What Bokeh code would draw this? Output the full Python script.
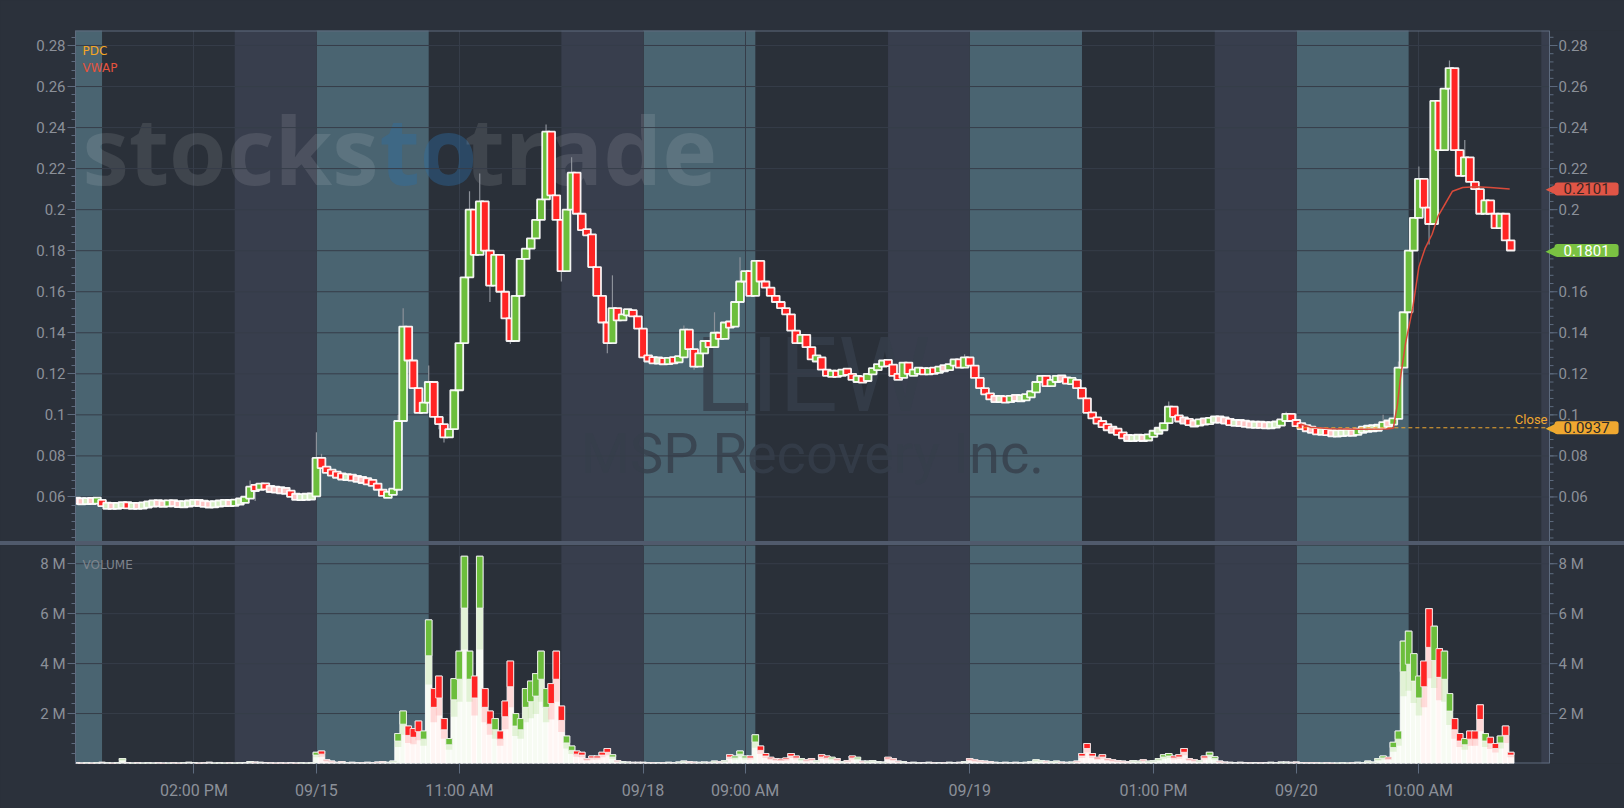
import numpy as np
from bokeh.plotting import figure
from bokeh.layouts import column
from bokeh.models import Range1d, FixedTicker, Label, Div, Grid, ColumnDataSource
from bokeh.core.properties import value
from bokeh.embed import file_html
from bokeh.resources import INLINE

# ---------------- data ----------------
ticker_name = "LIEW"
company_name = "MSP Recovery Inc."
day_labels = ["09/14", "09/15", "09/18", "09/19", "09/20"]
tick_hours = [10, 16, 23, 32, 37, 48, 57, 64, 70]
tick_labels = ["02:00 PM", "09/15", "11:00 AM", "09/18", "09:00 AM", "09/19", "01:00 PM", "09/20", "10:00 AM"]
price_ticks = [0.06, 0.08, 0.1, 0.12, 0.14, 0.16, 0.18, 0.2, 0.22, 0.24, 0.26, 0.28]
volume_ticks = [2e6, 4e6, 6e6, 8e6]
volume_tick_labels = ["2 M", "4 M", "6 M", "8 M"]

# 15-minute candles, hours counted from 04:00 of each session day
d0_first = 4.25
d0_open = 0.0582
d0_close = [0.0580, 0.0577, 0.0582, 0.0579, 0.0585,
            0.0556, 0.0558, 0.0555, 0.0558, 0.0562,
            0.0556, 0.0557, 0.0556, 0.0560, 0.0566,
            0.0570, 0.0568, 0.0565, 0.0572, 0.0567,
            0.0563, 0.0566, 0.0569, 0.0573, 0.0568,
            0.0565, 0.0562, 0.0566, 0.0569, 0.0572,
            0.0568, 0.0575, 0.0580, 0.0592, 0.0650,
            0.0638, 0.0662, 0.0641, 0.0637, 0.0634,
            0.0631, 0.0628, 0.0603, 0.0598, 0.0600,
            0.0601, 0.0603]
d0_vol = [0.03, 0.02, 0.03, 0.02, 0.03,
          0.05, 0.03, 0.02, 0.03, 0.20,
          0.04, 0.02, 0.03, 0.02, 0.03,
          0.02, 0.03, 0.02, 0.02, 0.03,
          0.02, 0.03, 0.05, 0.04, 0.02,
          0.03, 0.05, 0.02, 0.03, 0.02,
          0.03, 0.02, 0.03, 0.04, 0.08,
          0.06, 0.05, 0.04, 0.03, 0.02,
          0.03, 0.02, 0.04, 0.02, 0.03,
          0.02, 0.03]

d1_first = 0.0
d1_close = [0.0790, 0.0740, 0.0725, 0.0712,
            0.0705, 0.0695, 0.0698, 0.0690,
            0.0686, 0.0680, 0.0672, 0.0665,
            0.0635, 0.0605, 0.0615, 0.0635,
            0.0970, 0.1430, 0.1265, 0.1130,
            0.1010, 0.1060, 0.1160, 0.0990,
            0.0955, 0.0890, 0.0930, 0.1120,
            0.1350, 0.1670, 0.2000, 0.1780,
            0.2040, 0.1800, 0.1630, 0.1780,
            0.1600, 0.1470, 0.1360, 0.1580,
            0.1760, 0.1810, 0.1860, 0.1950,
            0.2050, 0.2380, 0.2070, 0.1950,
            0.1700, 0.2000, 0.2180, 0.1980,
            0.1900, 0.1880, 0.1720, 0.1580,
            0.1450, 0.1350, 0.1520, 0.1460,
            0.1490, 0.1510, 0.1480, 0.1420]
d1_vol = [0.45, 0.50, 0.15, 0.10,
          0.05, 0.08, 0.04, 0.05,
          0.04, 0.03, 0.05, 0.04,
          0.06, 0.08, 0.05, 0.10,
          1.20, 2.10, 1.50, 1.40,
          1.70, 1.30, 5.75, 3.00,
          3.50, 1.80, 1.00, 3.40,
          4.50, 8.30, 4.50, 3.50,
          8.30, 3.00, 2.10, 1.80,
          1.30, 2.50, 4.10, 2.00,
          1.80, 3.00, 3.30, 3.60,
          4.50, 3.00, 3.20, 4.50,
          2.30, 1.10, 0.70, 0.50,
          0.45, 0.20, 0.30, 0.30,
          0.45, 0.60, 0.35, 0.12,
          0.08, 0.06, 0.05, 0.05]

d2_first = 0.0
d2_close = [0.1280, 0.1270, 0.1262, 0.1268,
            0.1255, 0.1270, 0.1262, 0.1280,
            0.1415, 0.1320, 0.1235, 0.1300,
            0.1360, 0.1330, 0.1400, 0.1370,
            0.1450, 0.1430, 0.1550, 0.1650,
            0.1700, 0.1580, 0.1750, 0.1650,
            0.1620, 0.1580, 0.1550, 0.1520,
            0.1490, 0.1410, 0.1350, 0.1390,
            0.1330, 0.1270, 0.1280, 0.1220,
            0.1190, 0.1210, 0.1190, 0.1220,
            0.1200, 0.1170, 0.1180, 0.1165,
            0.1200, 0.1225, 0.1240, 0.1260,
            0.1245, 0.1190, 0.1180, 0.1255,
            0.1200, 0.1210, 0.1220, 0.1205,
            0.1220, 0.1210, 0.1230, 0.1225,
            0.1240, 0.1270, 0.1230, 0.1280]
d2_vol = [0.05, 0.04, 0.03, 0.04,
          0.03, 0.05, 0.04, 0.06,
          0.10, 0.08, 0.06, 0.05,
          0.06, 0.05, 0.10, 0.08,
          0.12, 0.35, 0.30, 0.50,
          0.30, 0.30, 1.15, 0.70,
          0.40, 0.25, 0.20, 0.18,
          0.22, 0.40, 0.30, 0.20,
          0.15, 0.20, 0.12, 0.35,
          0.30, 0.25, 0.20, 0.08,
          0.12, 0.30, 0.25, 0.10,
          0.10, 0.12, 0.08, 0.06,
          0.25, 0.20, 0.10, 0.08,
          0.04, 0.05, 0.03, 0.04,
          0.05, 0.03, 0.04, 0.03,
          0.05, 0.04, 0.05, 0.08]

d3_first = 0.0
d3_close = [0.1240, 0.1180, 0.1130, 0.1100,
            0.1080, 0.1075, 0.1080, 0.1070,
            0.1085, 0.1080, 0.1082, 0.1090,
            0.1110, 0.1160, 0.1190, 0.1140,
            0.1170, 0.1180, 0.1175, 0.1160,
            0.1170, 0.1130, 0.1080, 0.1010,
            0.0985, 0.0960, 0.0950, 0.0930,
            0.0925, 0.0910, 0.0890, 0.0885,
            0.0888, 0.0890, 0.0885, 0.0895,
            0.0920, 0.0925, 0.0960, 0.1040,
            0.0990, 0.0975, 0.0970, 0.0960,
            0.0955, 0.0970, 0.0965, 0.0975,
            0.0980, 0.0975, 0.0970, 0.0960,
            0.0962, 0.0958, 0.0955, 0.0950,
            0.0953, 0.0950, 0.0948, 0.0950,
            0.0955, 0.0970, 0.1005, 0.0970]
d3_vol = [0.20, 0.15, 0.12, 0.10,
          0.08, 0.05, 0.04, 0.05,
          0.04, 0.05, 0.04, 0.05,
          0.08, 0.15, 0.12, 0.10,
          0.08, 0.10, 0.06, 0.05,
          0.06, 0.10, 0.40, 0.80,
          0.40, 0.25, 0.35, 0.20,
          0.15, 0.12, 0.10, 0.08,
          0.12, 0.10, 0.15, 0.10,
          0.12, 0.20, 0.35, 0.40,
          0.30, 0.35, 0.60, 0.20,
          0.15, 0.12, 0.30, 0.45,
          0.27, 0.10, 0.06, 0.05,
          0.04, 0.05, 0.04, 0.03,
          0.04, 0.03, 0.04, 0.05,
          0.04, 0.06, 0.06, 0.05]

d4_first = 0.0
d4_close = [0.0950, 0.0940, 0.0930, 0.0925,
            0.0915, 0.0920, 0.0912, 0.0908,
            0.0910, 0.0912, 0.0915, 0.0910,
            0.0925, 0.0930, 0.0935, 0.0935,
            0.0940, 0.0960, 0.0955, 0.0980,
            0.1230, 0.1500, 0.1800, 0.1960,
            0.2150, 0.2010, 0.1930, 0.2530,
            0.2290, 0.2590, 0.2690, 0.2290,
            0.2165, 0.2255, 0.2135, 0.2100,
            0.1980, 0.2045, 0.1980, 0.1910,
            0.1980, 0.1850, 0.1801]
d4_vol = [0.06, 0.04, 0.03, 0.03,
          0.03, 0.02, 0.03, 0.02,
          0.02, 0.03, 0.02, 0.03,
          0.05, 0.04, 0.10, 0.06,
          0.20, 0.30, 0.25, 0.85,
          1.30, 4.90, 5.30, 4.40,
          3.50, 4.10, 6.20, 5.50,
          4.60, 4.50, 2.80, 1.80,
          1.20, 1.00, 1.30, 1.30,
          2.35, 1.20, 1.05, 0.80,
          1.10, 1.50, 0.45]

# wick extremes beyond the bodies, keyed by (day, hour)
wick_high = {(0, 12.75): 0.068, (0, 13.0): 0.0665,
             (1, 0.0): 0.0915, (1, 0.25): 0.081, (1, 4.0): 0.100, (1, 4.25): 0.152,
             (1, 5.5): 0.124, (1, 7.5): 0.209, (1, 8.0): 0.2176, (1, 11.25): 0.2415,
             (1, 12.5): 0.2255, (1, 14.5): 0.168,
             (2, 2.0): 0.1435, (2, 3.5): 0.150, (2, 4.75): 0.1768, (2, 15.75): 0.1295,
             (3, 9.75): 0.1065, (3, 15.5): 0.1015,
             (4, 0.0): 0.1007, (4, 4.25): 0.100, (4, 5.0): 0.126, (4, 6.0): 0.221,
             (4, 7.5): 0.2727, (4, 8.25): 0.234}
wick_low = {(0, 5.5): 0.0553, (0, 13.0): 0.058,
            (1, 6.0): 0.093, (1, 6.25): 0.0865, (1, 8.5): 0.155, (1, 9.5): 0.1345,
            (1, 12.0): 0.165, (1, 14.25): 0.130,
            (2, 2.5): 0.122, (4, 6.5): 0.183}

# VWAP for 09/20 (hours after 04:00)
vwap_hours = [0.2, 0.7, 1.7, 3.1, 4.4, 4.75, 4.95, 5.1, 5.35, 5.7, 6.0, 6.3, 6.65, 6.95,
              7.3, 7.65, 8.15, 8.8, 9.5, 10.45]
vwap_vals = [0.0955, 0.0940, 0.0932, 0.0930, 0.0931, 0.0935, 0.1050, 0.1180, 0.1350, 0.1520,
             0.1720, 0.1810, 0.1880, 0.1970, 0.2030, 0.2090, 0.2108, 0.2112, 0.2108, 0.2101]
pdc_close = 0.0937
vwap_last = 0.2101
last_close = 0.1801

# ---------------- layout constants ----------------
DAY_LEN, PRE_END, REG_END, STEP = 16.0, 5.5, 12.0, 0.25
X0, X1 = 4.2, 76.4
PY0, PY1 = 0.03828, 0.28731
VY0, VY1 = 0.0, 8.73e6
PAGE_W, PAGE_H = 1624, 808
FL, FR = 75, 1549
MT, MB = 30, 541
VT, VB = 545, 763
PXH = (FR - FL) / (X1 - X0)          # pixels per hour
XE = X1 + (PAGE_W - FR) / PXH         # panes extend over the right axis area

def mx(px):
    return X0 + (px - FL) / PXH

def my(py):
    return PY1 - (py - MT) / (MB - MT) * (PY1 - PY0)

def vy(py):
    return VY1 - (py - VT) / (VB - VT) * (VY1 - VY0)

BG = "#2b313b"
DARK = "#2a3039"
TEAL = "#4a6471"
SLATE = "#383e4d"
GRID = "#363d49"
EDGE = "#5e6b7e"
LABEL = "#8b9099"
GREEN = "#6cbe3c"
RED = "#ff2424"
PALE_G = "#d6efc4"
PALE_R = "#ffc6c6"

# ---------------- build candle table ----------------
days = [(0, d0_first, d0_close, d0_vol), (1, d1_first, d1_close, d1_vol),
        (2, d2_first, d2_close, d2_vol), (3, d3_first, d3_close, d3_vol),
        (4, d4_first, d4_close, d4_vol)]
xs, op, cl, hi, lo, vol = [], [], [], [], [], []
prev = d0_open
for d, first, closes, vols in days:
    assert len(closes) == len(vols)
    for i, (c, v) in enumerate(zip(closes, vols)):
        t = first + i * STEP
        o = prev
        xs.append(d * DAY_LEN + t)
        op.append(o)
        cl.append(c)
        hi.append(max(o, c, wick_high.get((d, t), 0.0)))
        lo.append(min(o, c, wick_low.get((d, t), 1.0)))
        vol.append(v * 1e6)
        prev = c

MINB = 0.0030
btop, bbot, bcol, vcol, vbase, vtint = [], [], [], [], [], []
for o, c in zip(op, cl):
    up = c >= o
    if abs(c - o) < MINB:
        m = (o + c) / 2
        btop.append(m + MINB / 2)
        bbot.append(m - MINB / 2)
    else:
        btop.append(max(o, c))
        bbot.append(min(o, c))
    if abs(c - o) < 0.0006:
        bcol.append(PALE_G if up else PALE_R)
    else:
        bcol.append(GREEN if up else RED)
    vcol.append(GREEN if up else RED)
    vbase.append("#f7fbf3" if up else "#fff6f4")
    vtint.append("#c3e5aa" if up else "#ffb0ae")

vol = np.array(vol)
src = ColumnDataSource(dict(x=xs, hi=hi, lo=lo, top=btop, bot=bbot, col=bcol,
                            v=vol, v75=vol * 0.75, v55=vol * 0.55,
                            vcol=vcol, vbase=vbase, vtint=vtint))

# session bands (clipped to the data area)
n_days = len(day_labels)
teal_l = [d * DAY_LEN for d in range(n_days)]
teal_r = [min(d * DAY_LEN + PRE_END, X1) for d in range(n_days)]
slate_l = [d * DAY_LEN + REG_END for d in range(n_days)]
slate_r = [min(d * DAY_LEN + DAY_LEN, X1) for d in range(n_days)]

x_ticker = FixedTicker(ticks=tick_hours)
price_minor = [round(v, 4) for v in np.arange(0.04, 0.2881, 0.004)]
vol_minor = [v for v in np.arange(0.4e6, 8.6e6, 0.4e6)]
price_labels = [f"{t:g}" for t in price_ticks]


def style_axis(ax, ticks, minor, labels):
    ax.ticker = FixedTicker(ticks=ticks, minor_ticks=minor)
    ax.major_label_overrides = dict(zip(ticks, labels))
    ax.axis_line_color = EDGE
    ax.major_tick_line_color = EDGE
    ax.minor_tick_line_color = EDGE
    ax.major_tick_out = 8
    ax.major_tick_in = 0
    ax.minor_tick_out = 4
    ax.minor_tick_in = 0
    ax.major_label_text_color = LABEL
    ax.major_label_text_font = "Roboto"
    ax.major_label_text_font_size = "15px"
    ax.major_label_standoff = 2


def make_pane(height, y0, y1, top_b, bot_b, x_axis):
    f = figure(width=PAGE_W, height=height, x_range=Range1d(X0, XE), y_range=Range1d(y0, y1),
               title=None, output_backend="svg", toolbar_location=None,
               x_axis_location="below" if x_axis else None,
               min_border_left=FL, min_border_right=0, min_border_top=top_b,
               min_border_bottom=bot_b, background_fill_color=DARK, border_fill_color=BG,
               outline_line_color=None)
    for g in f.xgrid:
        g.visible = False
    for g in f.ygrid:
        g.visible = False
    f.add_layout(Grid(dimension=0, ticker=x_ticker, grid_line_color=GRID), "center")
    big = (y1 - y0) * 10
    f.quad(left=[X1], right=[XE], bottom=[y0 - big], top=[y1 + big], fill_color=BG,
           line_color=None, level="image")
    f.quad(left=teal_l, right=teal_r, bottom=y0 - big, top=y1 + big, fill_color=TEAL,
           line_color=None, level="image")
    f.quad(left=slate_l, right=slate_r, bottom=y0 - big, top=y1 + big, fill_color=SLATE,
           line_color=None, level="image")
    return f


def right_axis(f, ticks, minor, labels, y0, y1):
    f.segment(x0=X0, x1=X1, y0=ticks, y1=ticks, line_color=GRID, line_width=1)
    f.segment(x0=[X1], x1=[X1], y0=[y0], y1=[y1], line_color=EDGE, line_width=1)
    f.segment(x0=X1, x1=X1 + 8 / PXH, y0=ticks, y1=ticks, line_color=EDGE, line_width=1)
    f.segment(x0=X1, x1=X1 + 4 / PXH, y0=minor, y1=minor, line_color=EDGE, line_width=1)
    f.text(x=X1 + 9 / PXH, y=ticks, text=labels, text_font=value("Roboto"),
           text_font_size=value("15px"), text_color=LABEL, text_baseline="middle",
           text_align="left")

# ---------------- price pane ----------------
p = make_pane(MB, PY0, PY1, MT, 0, False)
style_axis(p.yaxis[0], price_ticks, price_minor, price_labels)

# watermarks
wm = dict(level="underlay", text_font="Open Sans", text_font_style="bold",
          text_font_size="93px", text_baseline="alphabetic")
p.add_layout(Label(x=mx(82), y=my(148), text="stocks", text_color="#ffffff", text_alpha=0.1, **wm))
p.add_layout(Label(x=mx(379), y=my(148), text="to", text_color="#2e6da4", text_alpha=0.4, **wm))
p.add_layout(Label(x=mx(464), y=my(148), text="trade", text_color="#ffffff", text_alpha=0.1, **wm))
p.add_layout(Label(x=(X0 + X1) / 2, y=my(375), text=ticker_name, text_align="center",
                   text_baseline="alphabetic", text_font="Roboto", text_font_size="104px",
                   text_color="#363e4b", text_alpha=0.8, level="underlay"))
p.add_layout(Label(x=(X0 + X1) / 2, y=my(453), text=company_name, text_align="center",
                   text_baseline="alphabetic", text_font="Roboto", text_font_size="56px",
                   text_color="#363e4b", text_alpha=0.8, level="underlay"))

right_axis(p, price_ticks, price_minor, price_labels, PY0, PY1)
p.segment(x0=[X0], x1=[X1], y0=[PY1], y1=[PY1], line_color=EDGE, line_width=2)

# candles
p.segment(x0="x", x1="x", y0="lo", y1="hi", source=src, line_color="#8c9199", line_width=1.2)
p.vbar(x="x", width=0.38, top="top", bottom="bot", source=src, fill_color="col",
       line_color="#ffffff", line_alpha=0.92, line_width=1.8)

# PDC dashed line and VWAP
p.line([4 * DAY_LEN, X1], [pdc_close, pdc_close], line_color="#f0a830", line_width=1,
       line_dash="4 3")
p.line([4 * DAY_LEN + h for h in vwap_hours], vwap_vals, line_color="#d94a3a", line_width=1.5)

p.add_layout(Label(x=mx(82), y=my(43), text="PDC", text_color="#f5a623", text_font="DejaVu Sans",
                   text_font_size="12px", text_baseline="top"))
p.add_layout(Label(x=mx(82), y=my(60), text="VWAP", text_color="#e5533d", text_font="DejaVu Sans",
                   text_font_size="12px", text_baseline="top"))
p.add_layout(Label(x=mx(1547), y=my(426), text="Close", text_color="#f0a830", text_font="Roboto",
                   text_font_size="13px", text_align="right", text_baseline="bottom"))

# right-side price tags
for val, bgc, txc in [(vwap_last, "#e05546", "#3a2624"), (last_close, "#7ac142", "#ffffff"),
                      (pdc_close, "#f0a830", "#2b2b2b")]:
    p.add_layout(Label(x=mx(1555), y=val, text="\u25C0", text_color=bgc, text_font="DejaVu Sans",
                       text_font_size="13px", text_align="right", text_baseline="middle"))
    p.add_layout(Label(x=mx(1554), y=val, text=f"{val:.4f}", text_color=txc, text_font="Roboto",
                       text_font_size="15px", text_baseline="middle", background_fill_color=bgc,
                       border_radius=3, padding=dict(left=9, right=9, top=1, bottom=1)))

# ---------------- volume pane ----------------
v = make_pane(PAGE_H - VT, VY0, VY1, 0, PAGE_H - VB, True)
style_axis(v.yaxis[0], volume_ticks, vol_minor, volume_tick_labels)
xa = v.xaxis[0]
xa.ticker = x_ticker
xa.major_label_overrides = dict(zip(tick_hours, tick_labels))
xa.axis_line_color = None
xa.major_tick_line_color = EDGE
xa.major_tick_out = 10
xa.major_tick_in = 0
xa.minor_tick_line_color = None
xa.major_label_text_color = LABEL
xa.major_label_text_font = "Roboto"
xa.major_label_text_font_size = "16px"
xa.major_label_standoff = 7
right_axis(v, volume_ticks, vol_minor, volume_tick_labels, VY0, VY1)
v.segment(x0=[X0], x1=[X1], y0=[VY0], y1=[VY0], line_color=EDGE, line_width=2)

v.vbar(x="x", width=0.32, top="v", bottom=0, source=src, fill_color="vbase",
       line_color="#ffffff", line_alpha=0.9, line_width=1)
v.vbar(x="x", width=0.32, top="v75", bottom="v55", source=src, fill_color="vtint",
       fill_alpha=0.4, line_color=None)
v.vbar(x="x", width=0.32, top="v", bottom="v75", source=src, fill_color="vcol",
       line_color="#f3f3f3", line_alpha=0.8, line_width=1)
v.add_layout(Label(x=mx(82), y=vy(557), text="VOLUME", text_color="#7e848d",
                   text_font="DejaVu Sans", text_font_size="12px", text_baseline="top"))

sep = Div(width=PAGE_W, height=VT - MB, margin=(0, 0, 0, 0),
          styles={"background-color": "#505a6c"})
layout = column(p, sep, v, spacing=0)

html = file_html(layout, INLINE, title="LIEW")
html = html.replace("<head>", "<head><style>html,body{background:#2b313b;margin:0;padding:0;}</style>", 1)
open("out.html", "w").write(html)
